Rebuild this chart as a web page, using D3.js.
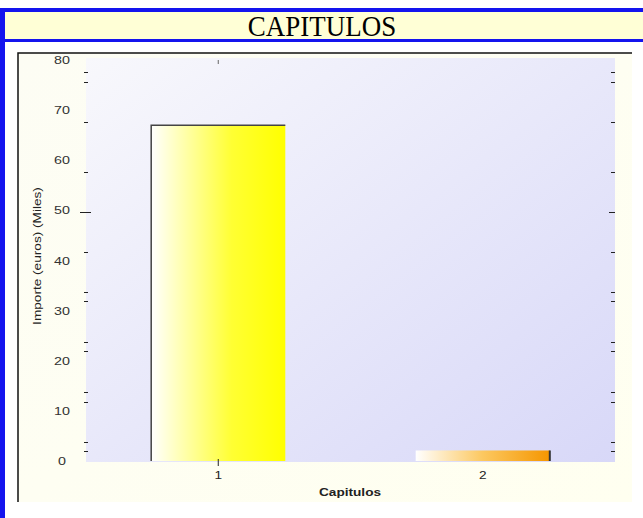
<!DOCTYPE html>
<html><head><meta charset="utf-8">
<script src="https://cdn.jsdelivr.net/npm/d3@7"></script>
<style>html,body{margin:0;padding:0;background:#fff;}svg{display:block;}</style>
</head><body>
<script>
const title = "CAPITULOS";
const categories = ["1", "2"];
const values = [67, 2.1];
const yTickLabels = [0, 10, 20, 30, 40, 50, 60, 70, 80];
const yTickMarks = [2, 3.8, 11.8, 13.8, 22, 23.8, 31.9, 33.7, 41.7, 57.7, 67.7, 75.6, 77.6];
const yMajorMark = [49.7];
const xTickMarks = ["1"];
const xTitle = "Capitulos";
const yTitle = "Importe (euros) (Miles)";

(function(){
const W = 643, H = 518;
const SX = 1.3;
const sans = "'Liberation Sans',Arial,sans-serif";
const svg = d3.select("body").append("svg").attr("width", W).attr("height", H);
const defs = svg.append("defs");

// frame
svg.append("rect").attr("x",0).attr("y",0).attr("width",W).attr("height",H).attr("fill","#fff");
svg.append("rect").attr("x",0).attr("y",8).attr("width",W).attr("height",34).attr("fill","#1414ee");
svg.append("rect").attr("x",4).attr("y",12).attr("width",W-4).attr("height",27).attr("fill","#ffffd6");
svg.append("rect").attr("x",0).attr("y",8).attr("width",5).attr("height",H-8).attr("fill","#1414ee");
svg.append("text").attr("transform","translate(322,36) scale(1,1.12)").attr("text-anchor","middle")
  .attr("font-family","'Liberation Serif','Times New Roman',serif").attr("font-size",27)
  .attr("fill","#000").text(title);

// panel
const pg = defs.append("linearGradient").attr("id","panelG").attr("x1","0").attr("y1","0").attr("x2","1").attr("y2","1");
pg.append("stop").attr("offset","0").attr("stop-color","#fdfdf4");
pg.append("stop").attr("offset","1").attr("stop-color","#fffff0");
svg.append("rect").attr("x",18).attr("y",53).attr("width",614).attr("height",449).attr("fill","url(#panelG)");
svg.append("path").attr("d","M18,502V53H632").attr("fill","none").attr("stroke","#111").attr("stroke-width",1.5);

// plot area
const pLeft = 86, pRight = 615, pTop = 60, pBottom = 461;
const y = d3.scaleLinear().domain([0, 80]).range([pBottom, pTop]);
const x = d3.scalePoint().domain(categories).range([pLeft, pRight]).padding(0.5);
const step = x.step();
const bw = step * 0.507;

const bg = defs.append("linearGradient").attr("id","plotG").attr("x1","0").attr("y1","0").attr("x2","1").attr("y2","1");
bg.append("stop").attr("offset","0").attr("stop-color","#f8f8fc");
bg.append("stop").attr("offset","1").attr("stop-color","#d8d8f8");
svg.append("rect").attr("x",pLeft).attr("y",58).attr("width",pRight-pLeft).attr("height",pBottom+1-58).attr("fill","url(#plotG)");

// bars
const g1 = defs.append("linearGradient").attr("id","bar0").attr("x1","0").attr("x2","1");
g1.append("stop").attr("offset","0").attr("stop-color","#ffffff");
g1.append("stop").attr("offset","0.6").attr("stop-color","#ffff33");
g1.append("stop").attr("offset","1").attr("stop-color","#ffff00");
const g2 = defs.append("linearGradient").attr("id","bar1").attr("x1","0").attr("x2","1");
g2.append("stop").attr("offset","0").attr("stop-color","#ffffff");
g2.append("stop").attr("offset","0.5").attr("stop-color","#fcc860");
g2.append("stop").attr("offset","1").attr("stop-color","#f59600");

svg.selectAll("rect.bar").data(values).enter().append("rect").attr("class","bar")
  .attr("x",(d,i)=>x(categories[i]) - bw/2).attr("y",d=>y(d))
  .attr("width",bw).attr("height",d=>y(0)-y(d))
  .attr("fill",(d,i)=>`url(#bar${i})`);
svg.append("path").attr("d",`M${x(categories[0])-bw/2},${y(0)}V${y(values[0])}H${x(categories[0])+bw/2}`)
  .attr("fill","none").attr("stroke","#444").attr("stroke-width",1.5);
svg.append("path").attr("d",`M${x(categories[1])+bw/2},${y(values[1])}V${y(0)}`)
  .attr("fill","none").attr("stroke","#333").attr("stroke-width",2);

// y tick labels
svg.selectAll("text.yl").data(yTickLabels).enter().append("text").attr("class","yl")
  .attr("transform",d=>`translate(62,${y(d)+4}) scale(${SX},1)`).attr("text-anchor","middle")
  .attr("font-family",sans).attr("font-size",11).attr("fill","#333")
  .text(d=>d);
[[84,88],[611,615]].forEach(([a,b])=>{
  svg.selectAll(null).data(yTickMarks).enter().append("line")
    .attr("x1",a).attr("x2",b).attr("y1",d=>Math.round(y(d))+0.5).attr("y2",d=>Math.round(y(d))+0.5)
    .attr("stroke","#222").attr("stroke-width",1);
});
svg.selectAll(null).data(yMajorMark).enter().append("line")
  .attr("x1",80).attr("x2",91).attr("y1",d=>Math.round(y(d))+0.5).attr("y2",d=>Math.round(y(d))+0.5)
  .attr("stroke","#222");
svg.selectAll(null).data(yMajorMark).enter().append("line")
  .attr("x1",609).attr("x2",615).attr("y1",d=>Math.round(y(d))+0.5).attr("y2",d=>Math.round(y(d))+0.5)
  .attr("stroke","#222");

// x ticks
svg.selectAll(null).data(xTickMarks).enter().append("line")
  .attr("x1",d=>x(d)).attr("x2",d=>x(d)).attr("y1",459).attr("y2",466).attr("stroke","#222");
svg.selectAll(null).data(xTickMarks).enter().append("line")
  .attr("x1",d=>x(d)).attr("x2",d=>x(d)).attr("y1",60).attr("y2",64).attr("stroke","#666");
svg.selectAll("text.xl").data(categories).enter().append("text").attr("class","xl")
  .attr("transform",d=>`translate(${x(d)},479) scale(${SX},1)`).attr("text-anchor","middle")
  .attr("font-family",sans).attr("font-size",10.5).attr("fill","#222")
  .text(d=>d);

svg.append("text").attr("transform",`translate(350,496) scale(${SX},1)`).attr("text-anchor","middle")
  .attr("font-family",sans).attr("font-size",10.5).attr("font-weight","bold")
  .attr("fill","#222").text(xTitle);
svg.append("text").attr("transform",`translate(41,256) rotate(-90) scale(${SX},1)`).attr("text-anchor","middle")
  .attr("font-family",sans).attr("font-size",10.5).attr("fill","#222")
  .text(yTitle);
})();
</script>
</body></html>
